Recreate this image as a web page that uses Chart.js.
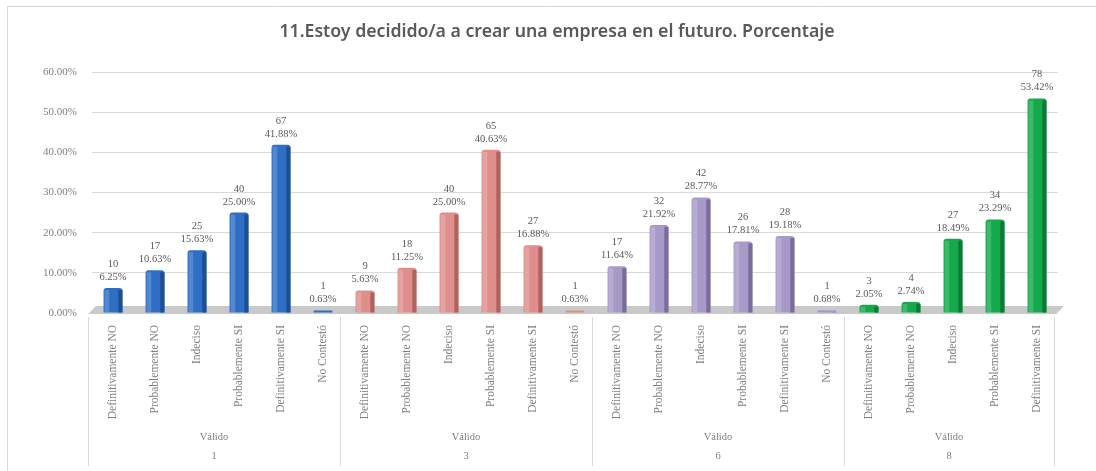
<!DOCTYPE html>
<html><head><meta charset="utf-8">
<script src="https://cdn.jsdelivr.net/npm/chart.js@4.4.1/dist/chart.umd.min.js"></script>
<style>html,body{margin:0;padding:0;background:#fff;}#c{display:block;}</style>
</head><body>
<canvas id="c" width="1096" height="471" style="width:1096px;height:471px"></canvas>
<script>
const chartTitle = '11.Estoy decidido/a a crear una empresa en el futuro. Porcentaje';
const categories = [
  "Definitivamente NO","Probablemente NO","Indeciso","Probablemente SI","Definitivamente SI","No Contestó",
  "Definitivamente NO","Probablemente NO","Indeciso","Probablemente SI","Definitivamente SI","No Contestó",
  "Definitivamente NO","Probablemente NO","Indeciso","Probablemente SI","Definitivamente SI","No Contestó",
  "Definitivamente NO","Probablemente NO","Indeciso","Probablemente SI","Definitivamente SI"
];
const groupNames = ["1","3","6","8"];
const groupSubLabel = "Válido";
const groupSizes = [6,6,6,5];
const counts = [10,17,25,40,67,1, 9,18,40,65,27,1, 17,32,42,26,28,1, 3,4,27,34,78];
const percents = [6.25,10.63,15.63,25.00,41.88,0.63, 5.63,11.25,25.00,40.63,16.88,0.63, 11.64,21.92,28.77,17.81,19.18,0.68, 2.05,2.74,18.49,23.29,53.42];
const yTicks = [0,10,20,30,40,50,60];
const groupColors = ["#2e6ec4","#df8f8b","#a89ac8","#14a94b"];
const groupDark = ["#1d4f94","#b0625e","#7a6d9c","#0c7a34"];

const barColors = [], barDark = [];
groupSizes.forEach((n,g)=>{ for(let i=0;i<n;i++){ barColors.push(groupColors[g]); barDark.push(groupDark[g]); } });

const smallFont = "'Liberation Serif', serif";

const titlePlugin = {
  id:'customTitle',
  afterDraw(chart){
    const {ctx} = chart;
    ctx.save();
    ctx.fillStyle = '#595959';
    ctx.font = "600 17.7px 'Noto Sans', sans-serif";
    ctx.textAlign = 'center';
    ctx.textBaseline = 'middle';
    ctx.fillText(chartTitle, 557, 32);
    ctx.restore();
  }
};

const floorPlugin = {
  id:'floor',
  beforeDatasetsDraw(chart){
    const {ctx, chartArea:a, scales:{y}} = chart;
    const y0 = y.getPixelForValue(0);
    ctx.save();
    ctx.fillStyle = '#c9c9c9';
    ctx.beginPath();
    ctx.moveTo(a.left-4, y0+1);
    ctx.lineTo(a.right-2, y0+1);
    ctx.lineTo(a.right+6, y0-7);
    ctx.lineTo(a.left+4, y0-7);
    ctx.closePath();
    ctx.fill();
    ctx.restore();
  }
};

const barDeco = {
  id:'barDeco',
  afterDatasetsDraw(chart){
    const {ctx} = chart;
    const meta = chart.getDatasetMeta(0);
    ctx.save();
    meta.data.forEach((bar,i)=>{
      const p = bar.getProps(['x','y','base','width'], true);
      const w = p.width, right = p.x + w/2;
      ctx.fillStyle = barDark[i];
      ctx.fillRect(right - w*0.22, p.y+2, w*0.22, p.base - p.y - 2);
      ctx.fillStyle = 'rgba(255,255,255,0.18)';
      ctx.fillRect(p.x - w/2 + 1, p.y+2, w*0.25, p.base - p.y - 2);
      ctx.fillStyle = '#595959';
      ctx.font = "10.5px " + smallFont;
      ctx.textAlign = 'center';
      ctx.textBaseline = 'alphabetic';
      ctx.fillText(String(counts[i]), p.x, p.y - 21);
      ctx.fillText(percents[i].toFixed(2) + '%', p.x, p.y - 8);
    });
    ctx.restore();
  }
};

const groupAxis = {
  id:'groupAxis',
  afterDraw(chart){
    const {ctx, chartArea:a, scales:{x}} = chart;
    const cw = (a.right - a.left) / categories.length;
    ctx.save();
    ctx.strokeStyle = '#d9d9d9';
    ctx.lineWidth = 1;
    ctx.beginPath();
    ctx.moveTo(7.5, 471); ctx.lineTo(7.5, 6.5); ctx.lineTo(1096, 6.5);
    ctx.stroke();
    let start = 0;
    const y0 = a.bottom + 4;
    ctx.font = "10.5px " + smallFont;
    ctx.fillStyle = '#7f7f7f';
    ctx.textAlign = 'center';
    ctx.textBaseline = 'middle';
    groupSizes.forEach((n,g)=>{
      const left = x.getPixelForValue(start) - cw/2 - 4;
      const right = x.getPixelForValue(start+n-1) + cw/2 - 4;
      ctx.beginPath();
      ctx.moveTo(Math.round(left)+0.5, y0); ctx.lineTo(Math.round(left)+0.5, 466);
      if (g === groupSizes.length-1){ ctx.moveTo(Math.round(right)+0.5, y0); ctx.lineTo(Math.round(right)+0.5, 466); }
      ctx.stroke();
      const cx = (left+right)/2;
      ctx.fillText(groupSubLabel, cx, 437);
      ctx.fillText(groupNames[g], cx, 456);
      start += n;
    });
    ctx.restore();
  }
};

new Chart(document.getElementById('c'), {
  type:'bar',
  data:{
    labels: categories,
    datasets:[{
      data: percents,
      backgroundColor: barColors,
      borderRadius: {topLeft:3, topRight:3},
      borderSkipped: 'bottom',
      barPercentage: 0.45,
      categoryPercentage: 1.0
    }]
  },
  options:{
    responsive:false,
    animation:false,
    devicePixelRatio:1,
    layout:{padding:{left:8, right:38, top:72, bottom:0}},
    plugins:{
      legend:{display:false},
      tooltip:{enabled:false},
      title:{display:false}
    },
    scales:{
      y:{
        min:0, max:60,
        afterBuildTicks(scale){ scale.ticks = yTicks.map(v=>({value:v})); },
        ticks:{
          callback:(v)=>Number(v).toFixed(2)+'%',
          color:'#7f7f7f',
          font:{family:smallFont, size:11},
          padding:15
        },
        grid:{color:'#d9d9d9', drawTicks:false},
        border:{display:false},
        afterFit(scale){ scale.width = 84; }
      },
      x:{
        ticks:{
          autoSkip:false, maxRotation:90, minRotation:90,
          color:'#7f7f7f',
          font:{family:smallFont, size:11.5},
          padding:12
        },
        grid:{display:false, drawTicks:false},
        border:{display:false},
        afterFit(scale){ scale.height = 158; }
      }
    }
  },
  plugins:[floorPlugin, barDeco, groupAxis, titlePlugin]
});
</script>
</body></html>
